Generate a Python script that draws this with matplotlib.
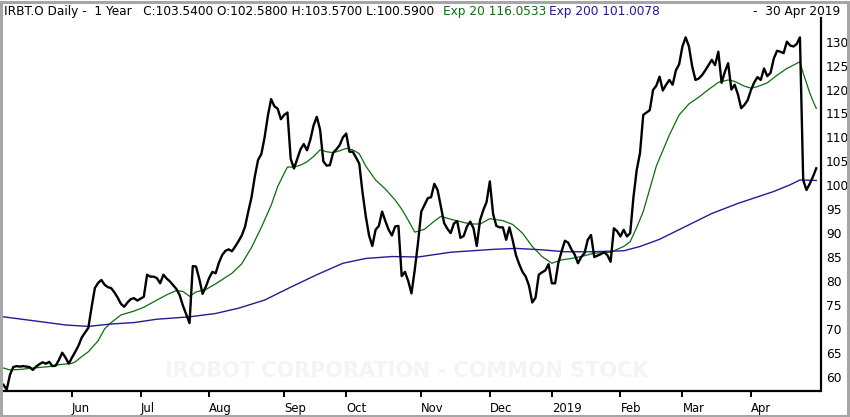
import numpy as np
import pandas as pd
import matplotlib
matplotlib.use("Agg")
import matplotlib.pyplot as plt
from matplotlib.patches import Rectangle

# trading calendar (NYSE closures in the window)
holidays = ["2018-05-28", "2018-07-04", "2018-09-03", "2018-11-22", "2018-12-05",
            "2018-12-25", "2019-01-01", "2019-01-21", "2019-02-18", "2019-04-19"]
month_labels = ["Jun", "Jul", "Aug", "Sep", "Oct", "Nov", "Dec", "2019", "Feb", "Mar", "Apr"]
price_ticks = list(range(60, 131, 5))

# daily closes from 2 May 2018 (trading day 1) to 30 Apr 2019 (trading day 250)
close = [
    58.3, 57.3, 60.4, 62.0, 62.2, 62.1, 62.2, 62.1, 62.0, 61.4,
    62.1, 62.6, 63.0, 62.7, 63.1, 62.2, 62.3, 63.5, 65.0, 64.0,
    62.7, 64.0, 65.2, 66.5, 68.2, 69.2, 70.2, 74.5, 78.5, 79.6,
    80.2, 79.2, 78.7, 78.5, 77.6, 76.5, 75.2, 74.6, 75.5, 76.2,
    76.4, 75.9, 76.3, 76.7, 81.3, 80.9, 80.9, 80.6, 79.5, 81.3,
    80.5, 79.9, 79.1, 78.3, 77.0, 74.8, 73.0, 71.2, 83.1, 83.0,
    80.4, 77.3, 78.8, 80.6, 81.9, 81.6, 83.8, 85.4, 86.3, 86.6,
    86.2, 87.2, 88.3, 89.5, 91.3, 94.5, 97.5, 101.8, 105.3, 106.5,
    110.0, 114.5, 118.0, 116.5, 116.0, 113.8, 114.7, 115.2, 105.5, 103.5,
    105.5, 107.5, 108.6, 107.3, 109.5, 112.5, 114.3, 111.6, 105.0, 104.1,
    104.2, 106.8, 107.5, 108.4, 110.0, 110.8, 107.0, 107.0, 105.8, 104.5,
    98.5, 93.5, 89.5, 87.3, 90.7, 91.5, 94.5, 92.5, 90.7, 89.5,
    91.4, 91.5, 81.0, 81.9, 80.0, 77.4, 82.3, 88.0, 94.5, 95.9,
    97.3, 97.5, 100.3, 99.0, 95.5, 92.1, 90.9, 90.0, 92.0, 92.5,
    89.0, 89.4, 91.4, 92.4, 91.0, 87.3, 92.7, 94.8, 96.5, 100.8,
    94.0, 91.5, 91.2, 91.2, 88.6, 91.2, 88.5, 85.4, 83.5, 81.9,
    80.9, 79.0, 75.5, 76.5, 81.3, 81.8, 82.2, 83.5, 79.5, 79.5,
    83.8, 86.2, 88.4, 88.0, 86.6, 85.5, 83.7, 85.0, 85.8, 88.6,
    89.6, 85.0, 85.3, 85.6, 86.0, 85.4, 84.0, 91.0, 90.4, 89.3,
    90.7, 89.3, 90.0, 97.5, 103.2, 106.7, 114.7, 115.2, 115.7, 119.9,
    120.8, 122.7, 119.8, 121.0, 122.0, 121.0, 124.0, 125.3, 129.0, 130.9,
    129.0, 124.8, 122.0, 122.3, 123.0, 124.0, 125.1, 126.2, 125.1, 127.9,
    121.4, 123.7, 125.5, 120.0, 121.0, 119.0, 116.1, 116.8, 117.8, 119.9,
    121.5, 122.6, 122.0, 124.4, 122.8, 123.5, 126.5, 128.1, 127.9, 127.6,
    130.0, 129.2, 129.0, 129.5, 130.9, 101.1, 99.0, 100.3, 101.8, 103.54,
]

# moving averages (trading day, value)
ema20_day = [1, 3, 6, 10, 15, 18, 22, 23, 25, 27, 30, 32, 34, 37, 41, 44, 48, 51, 54, 56,
             58, 60, 63, 66, 71, 74, 77, 80, 83, 85, 87, 88, 90, 92, 94, 96, 98, 100, 102, 104,
             106, 108, 110, 112, 115, 118, 121, 123, 125, 127, 130, 133, 135, 138, 141, 144, 147, 150, 154, 157,
             160, 163, 166, 169, 172, 175, 178, 182, 187, 191, 193, 195, 197, 201, 205, 208, 211, 214, 217, 220,
             223, 225, 228, 230, 232, 235, 238, 241, 245, 246, 247, 248, 249, 250]
ema20_val = [61.8, 61.4, 61.5, 61.8, 62.1, 62.5, 62.8, 63.1, 64.2, 65.2, 67.5, 70.0, 71.3, 72.9, 73.7, 74.5, 76.0, 77.1, 78.0, 77.8,
             76.8, 77.7, 78.2, 79.4, 81.6, 83.6, 87.0, 91.2, 95.8, 99.7, 102.5, 103.8, 103.8, 104.2, 104.9, 106.0, 107.4, 107.0, 106.8, 107.2,
             107.7, 107.4, 106.6, 104.0, 101.1, 99.2, 96.9, 95.0, 92.7, 90.2, 90.8, 92.5, 93.5, 92.9, 92.4, 91.9, 91.9, 93.0, 92.6, 91.8,
             90.0, 87.2, 85.1, 83.7, 84.4, 84.7, 85.1, 85.8, 86.0, 87.2, 88.2, 91.2, 94.5, 104.0, 110.5, 114.7, 117.0, 118.4, 120.0, 121.5,
             122.0, 121.7, 120.7, 120.3, 120.6, 121.4, 123.0, 124.4, 125.8, 123.4, 121.4, 119.3, 117.6, 116.05]

ema200_day = [1, 10, 20, 27, 34, 41, 48, 58, 66, 73, 81, 89, 97, 105, 112, 120, 128, 138, 151, 158,
              166, 173, 181, 191, 196, 202, 210, 218, 226, 237, 242, 245, 250]
ema200_val = [72.5, 71.7, 70.8, 70.5, 71.0, 71.3, 72.0, 72.5, 73.2, 74.3, 76.0, 78.7, 81.3, 83.7, 84.7, 85.1, 85.0, 86.0, 86.6, 86.8,
              86.5, 86.1, 86.1, 86.3, 87.2, 88.7, 91.4, 94.1, 96.2, 98.7, 100.1, 101.1, 101.0]

W, H = 850, 417
days = pd.bdate_range("2018-05-01", "2019-04-30")
days = days[~days.isin(pd.to_datetime(holidays))]
idx = pd.Series(np.arange(len(days)), index=days)
month_first = idx.groupby([days.year, days.month]).first().values[1:]

fig = plt.figure(figsize=(W / 100, H / 100), dpi=100)
fig.patch.set_facecolor("white")
ax = fig.add_axes([3 / W, 26 / H, 817.5 / W, 373 / H])

ax.plot(np.arange(1, len(close) + 1), close, color="black", lw=1.7, zorder=3)
ax.plot(ema20_day, ema20_val, color="#0b6e0b", lw=0.9, zorder=2)
ax.plot(ema200_day, ema200_val, color="#2a1896", lw=1.0, zorder=2)

ax.set_xlim(0.86, 251.3)
ax.set_ylim(57.0, 134.95)

for s in ["top", "left"]:
    ax.spines[s].set_visible(False)
for s in ["bottom", "right"]:
    ax.spines[s].set_linewidth(1.6)
    ax.spines[s].set_color("black")

ax.yaxis.tick_right()
ax.set_yticks(price_ticks)
ax.set_yticklabels([str(p) for p in price_ticks])
ax.tick_params(axis="y", length=0, pad=4, labelsize=8.8)

ax.set_xticks(month_first)
ax.set_xticklabels(month_labels)
ax.tick_params(axis="x", length=4, width=1.4, pad=4, labelsize=8.4)
for lab in ax.get_xticklabels():
    lab.set_ha("left")

# faint watermark
fig.text(407 / W, 1 - 371 / H, "IROBOT CORPORATION - COMMON STOCK", ha="center", va="center",
         fontsize=15, fontweight="bold", color="#f4f4f4", zorder=0)

# header line
ty = 1 - 12 / H
fig.text(4 / W, ty, "IRBT.O Daily -  1 Year   C:103.5400 O:102.5800 H:103.5700 L:100.5900",
         ha="left", va="center", fontsize=8.7, color="black")
fig.text(443 / W, ty, "Exp 20 116.0533", ha="left", va="center", fontsize=8.7, color="#0b6e0b")
fig.text(549 / W, ty, "Exp 200 101.0078", ha="left", va="center", fontsize=8.7, color="#2a1896")
fig.text(840 / W, ty, "-  30 Apr 2019", ha="right", va="center", fontsize=8.7, color="black")

# outer frame
fig.patches.append(Rectangle((0.8 / W, 0.8 / H), 1 - 2.6 / W, 1 - 2.6 / H, transform=fig.transFigure,
                             fill=False, edgecolor="#a6a6a6", lw=2.2))

fig.savefig("out.png", dpi=100)
